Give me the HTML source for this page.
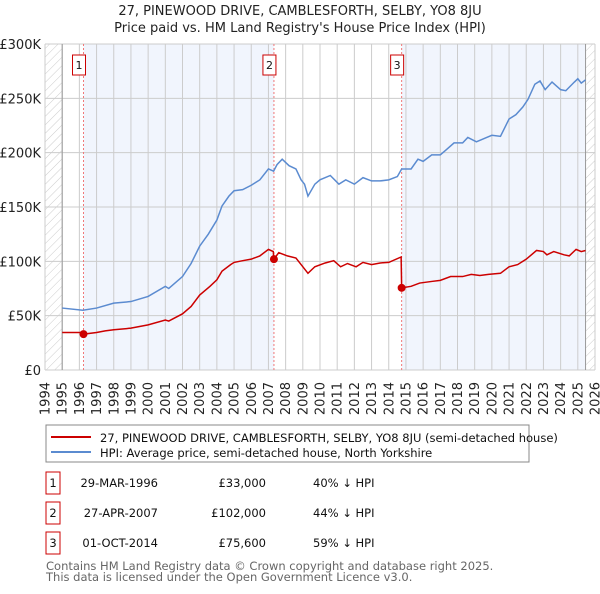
<!DOCTYPE html>
<html><head><meta charset="utf-8"><style>
body{margin:0;background:#fff;font-family:"DejaVu Sans","Liberation Sans",sans-serif;}
svg text{font-family:"DejaVu Sans","Liberation Sans",sans-serif;}
</style></head><body>
<svg id="c" width="600" height="590" xmlns="http://www.w3.org/2000/svg">
<defs><pattern id="h" width="6" height="6" patternUnits="userSpaceOnUse" patternTransform="rotate(45)"><line x1="0" y1="0" x2="0" y2="6" stroke="#ccc" stroke-width="1"/></pattern></defs>
<text x="300" y="15" text-anchor="middle" font-size="13" fill="#222">27, PINEWOOD DRIVE, CAMBLESFORTH, SELBY, YO8 8JU</text>
<text x="300" y="32" text-anchor="middle" font-size="13" fill="#222">Price paid vs. HM Land Registry's House Price Index (HPI)</text>
<g id="plot"></g>
<rect x="46" y="425" width="483" height="37" fill="#fff" stroke="#888"/>
<line x1="51" y1="437" x2="91" y2="437" stroke="#cc0000" stroke-width="2"/>
<text x="100" y="442" font-size="11.5" fill="#111">27, PINEWOOD DRIVE, CAMBLESFORTH, SELBY, YO8 8JU (semi-detached house)</text>
<line x1="51" y1="452" x2="91" y2="452" stroke="#5b8bd0" stroke-width="2"/>
<text x="100" y="457" font-size="11.5" fill="#111">HPI: Average price, semi-detached house, North Yorkshire</text>
<g id="tbl"></g>
<text x="46" y="570" font-size="11.5" fill="#666">Contains HM Land Registry data © Crown copyright and database right 2025.</text>
<text x="46" y="581" font-size="11.5" fill="#666">This data is licensed under the Open Government Licence v3.0.</text>
</svg>
<script>
const yearTicks=[1994,1995,1996,1997,1998,1999,2000,2001,2002,2003,2004,2005,2006,2007,2008,2009,2010,2011,2012,2013,2014,2015,2016,2017,2018,2019,2020,2021,2022,2023,2024,2025,2026];
const valueTicks=[0,50,100,150,200,250,300];
const valueLabels=["£0","£50K","£100K","£150K","£200K","£250K","£300K"];
const hpiYears=[1995,1996.2,1997,1998,1999,2000,2001,2001.2,2002,2002.5,2003,2003.5,2004,2004.3,2004.7,2005,2005.5,2006,2006.5,2007,2007.3,2007.5,2007.8,2008.2,2008.6,2008.9,2009.1,2009.3,2009.7,2010,2010.6,2011.1,2011.5,2012,2012.5,2013,2013.5,2014,2014.5,2014.75,2015.3,2015.7,2016,2016.5,2017,2017.3,2017.8,2018.3,2018.6,2019.1,2019.7,2020,2020.5,2021,2021.4,2021.8,2022.1,2022.5,2022.8,2023.1,2023.5,2024,2024.3,2024.8,2025,2025.2,2025.45];
const hpiValues=[57,55,57,61.5,63,67.7,77,75,86,98,114,125,138,151,160,165,166,170,175,185,183,189,194,188,185,175,171,160,171,175,179,171,175,171,177,174,174,175,178,185,185,194,192,198,198,202,209,209,214,210,214,216,215,231,235,242,249,263,266,258,265,258,257,265,268,264,267];
const priceYears=[1995,1996.2,1996.24,1997,1997.5,1998,1999,2000,2001,2001.2,2002,2002.5,2003,2003.6,2004,2004.3,2004.8,2005,2005.5,2006,2006.5,2007,2007.28,2007.32,2007.6,2008.1,2008.6,2008.9,2009.3,2009.7,2010.3,2010.8,2011.2,2011.6,2012.1,2012.5,2013,2013.5,2014,2014.72,2014.75,2015.3,2015.8,2016.5,2017,2017.6,2018.3,2018.8,2019.3,2019.8,2020.5,2021,2021.5,2022,2022.6,2023,2023.2,2023.6,2024.2,2024.5,2024.9,2025.2,2025.45];
const priceValues=[34.5,34.5,33,34.5,36,37,38.5,41.5,46,45,51.7,58.5,69,77,83,91,97,99,100.6,102,105,111,109,102,108,105,103,97,89,95,98.5,100.6,95,98,95,99,97,98.5,99,104,75.6,77,80,81.5,82.5,86,86,88,87,88,89,95,97,102,110,109,106,109,106,105,111,109,110];
const saleLabels=["1","2","3"];
const saleYears=[1996.24,2007.32,2014.75];
const salePrices=[33,102,75.6];
const saleDates=["29-MAR-1996","27-APR-2007","01-OCT-2014"];
const salePriceText=["£33,000","£102,000","£75,600"];
const saleHpiText=["40% ↓ HPI","44% ↓ HPI","59% ↓ HPI"];

const NS="http://www.w3.org/2000/svg";
const L=45,R=595,T=44,B=370,Y0=1994,Y1=2026,VMAX=300;
const xs=y=>L+(y-Y0)/(Y1-Y0)*(R-L);
const ys=v=>B-v/VMAX*(B-T);
const plot=document.getElementById('plot');
function mk(tag,a,p){const e=document.createElementNS(NS,tag);for(const k in a)e.setAttribute(k,a[k]);(p||plot).appendChild(e);return e;}
let e;
e=mk('rect',{x:L,y:T,width:R-L,height:B-T,fill:'#fff'});


e=mk('rect',{x:xs(saleYears[0]),y:T,width:xs(saleYears[1])-xs(saleYears[0]),height:B-T,fill:'#f1f5fd'});


e=mk('rect',{x:xs(saleYears[2]),y:T,width:xs(2025.45)-xs(saleYears[2]),height:B-T,fill:'#f1f5fd'});


e=mk('rect',{x:L,y:T,width:xs(1995)-L,height:B-T,fill:'url(#h)'});


e=mk('rect',{x:xs(2025.45),y:T,width:R-xs(2025.45),height:B-T,fill:'url(#h)'});


yearTicks.forEach(y=>{
 e=mk('line',{x1:xs(y),y1:T,x2:xs(y),y2:B,stroke:'#ccc','stroke-width':1});
 
 
 e=mk('text',{x:0,y:0,transform:`translate(${xs(y)+4.5},382) rotate(-90)`,'text-anchor':'end','font-size':13,fill:'#222'});
 e.textContent=y;
 
 
});
valueTicks.forEach((v,i)=>{
 e=mk('line',{x1:L,y1:ys(v),x2:R,y2:ys(v),stroke:'#ccc','stroke-width':1});
 
 
 e=mk('text',{x:L-4,y:ys(v)+5,'text-anchor':'end','font-size':13,fill:'#222'});
 e.textContent=valueLabels[i];
 
 
});
e=mk('line',{x1:xs(1995),y1:T,x2:xs(1995),y2:B,stroke:'#999'});


e=mk('line',{x1:xs(2025.45),y1:T,x2:xs(2025.45),y2:B,stroke:'#999'});


saleYears.forEach((y,i)=>{
 e=mk('line',{x1:xs(y),y1:T,x2:xs(y),y2:B,stroke:'#f07878','stroke-dasharray':'2,2'});
 
 
});
e=mk('polyline',{points:hpiYears.map((y,i)=>xs(y)+','+ys(hpiValues[i])).join(' '),fill:'none',stroke:'#5b8bd0','stroke-width':1.5});


e=mk('polyline',{points:priceYears.map((y,i)=>xs(y)+','+ys(priceValues[i])).join(' '),fill:'none',stroke:'#cc0000','stroke-width':1.5});


saleYears.forEach((y,i)=>{
 e=mk('circle',{cx:xs(y),cy:ys(salePrices[i]),r:4,fill:'#cc0000'});
 
 
 e=mk('rect',{x:xs(y)-11,y:55,width:13,height:20,fill:'#fff',stroke:'#cc0000'});
 
 
 e=mk('text',{x:xs(y)-4.5,y:69,'text-anchor':'middle','font-size':11,fill:'#111'});
 e.textContent=saleLabels[i];
 
 
});
const tbl=document.getElementById('tbl');
saleLabels.forEach((s,i)=>{
 const cy=483+i*30;
 e=mk('rect',{x:46,y:cy-11,width:14,height:22,fill:'#fff',stroke:'#cc0000'},tbl);
 
 
 e=mk('text',{x:53,y:cy+4,'text-anchor':'middle','font-size':11.5,fill:'#111'},tbl);
 e.textContent=s;
 
 
 e=mk('text',{x:158,y:cy+4,'text-anchor':'end','font-size':11.5,fill:'#111'},tbl);
 e.textContent=saleDates[i];
 
 
 e=mk('text',{x:266,y:cy+4,'text-anchor':'end','font-size':11.5,fill:'#111'},tbl);
 e.textContent=salePriceText[i];
 
 
 e=mk('text',{x:313,y:cy+4,'font-size':11.5,fill:'#111'},tbl);
 e.textContent=saleHpiText[i];
 
 
});
</script>
</body></html>
